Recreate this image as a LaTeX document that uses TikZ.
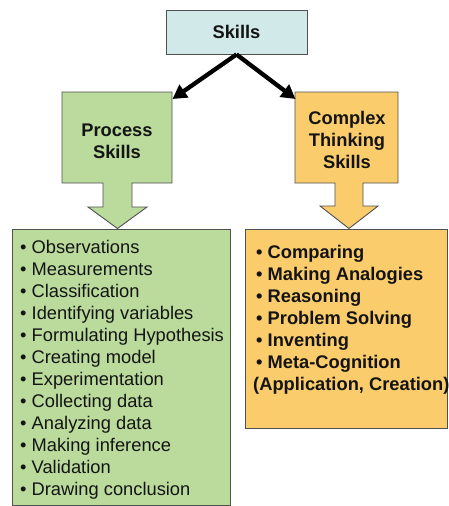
\documentclass[tikz,border=0pt]{standalone}
\usepackage{fontspec}
\setmainfont{Liberation Sans}
\usetikzlibrary{arrows.meta}
\definecolor{skillblue}{RGB}{210,233,234}
\definecolor{procgreen}{RGB}{186,219,156}
\definecolor{cplxorange}{RGB}{250,204,108}
\definecolor{edgegray}{RGB}{80,80,80}
\definecolor{inkblack}{RGB}{20,20,20}
\begin{document}
\begin{tikzpicture}[x=1pt,y=-1pt,
  boxline/.style={draw=edgegray,line width=0.9pt},
  headtext/.style={font=\fontsize{18.3}{22}\selectfont\bfseries,text=inkblack,align=center,inner sep=0pt},
  listtext/.style={font=\fontsize{18.3}{22}\selectfont,text=inkblack,align=left,inner sep=0pt,anchor=north west},
  bigarrow/.style={line width=4.3pt,-{Triangle[length=14pt,width=15pt]}}
]
\useasboundingbox (0,0) rectangle (448,506);

% list boxes
\node[boxline,fill=procgreen,anchor=north west,minimum width=218pt,minimum height=276pt,inner sep=0pt] (plist) at (12,229) {};
\node[boxline,fill=cplxorange,anchor=north west,minimum width=202pt,minimum height=199pt,inner sep=0pt] (clist) at (245,229) {};

% callouts
\draw[boxline,fill=procgreen] (62,92) -- (172,92) -- (172,183) -- (132,183) -- (132,207) -- (147,207) -- (117.5,228.5) -- (88,207) -- (103,207) -- (103,183) -- (62,183) -- cycle;
\draw[boxline,fill=cplxorange] (295,92) -- (398,92) -- (398,183) -- (363,183) -- (363,206) -- (378,206) -- (349,228.5) -- (320,206) -- (335,206) -- (335,183) -- (295,183) -- cycle;
\coordinate (procTR) at (172.5,99);
\coordinate (cplxTL) at (295.5,99);

\node[headtext] (proc) at (117,141) {Process\\Skills};
\node[headtext] (cplx) at (347,140) {Complex\\Thinking\\Skills};

% top box
\node[boxline,fill=skillblue,minimum width=141pt,minimum height=44pt,inner sep=0pt,headtext] (skills) at (236.5,32) {Skills};

\draw[bigarrow] (skills.south) -- (procTR);
\draw[bigarrow] (skills.south) -- (cplxTL);

% list texts
\node[listtext] (ptext) at (20,240) {%
\textbullet\ Observations\\
\textbullet\ Measurements\\
\textbullet\ Classification\\
\textbullet\ Identifying variables\\
\textbullet\ Formulating Hypothesis\\
\textbullet\ Creating model\\
\textbullet\ Experimentation\\
\textbullet\ Collecting data\\
\textbullet\ Analyzing data\\
\textbullet\ Making inference\\
\textbullet\ Validation\\
\textbullet\ Drawing conclusion};

\node[listtext,font=\fontsize{18.3}{22}\selectfont\bfseries] (ctext) at (253,245) {%
\hspace{3pt}\textbullet\ Comparing\\
\hspace{3pt}\textbullet\ Making Analogies\\
\hspace{3pt}\textbullet\ Reasoning\\
\hspace{3pt}\textbullet\ Problem Solving\\
\hspace{3pt}\textbullet\ Inventing\\
\hspace{3pt}\textbullet\ Meta-Cognition\\
(Application, Creation)};
\end{tikzpicture}
\end{document}
